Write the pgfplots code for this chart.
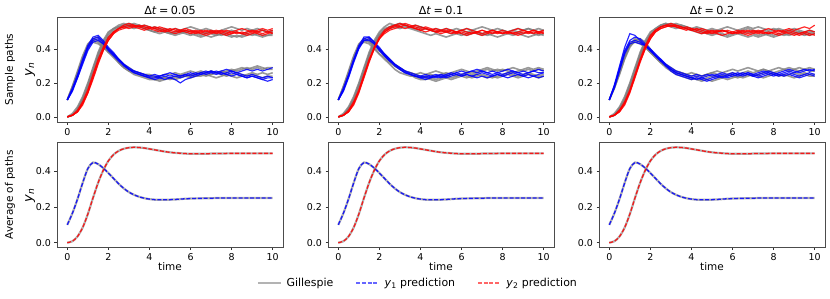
\documentclass[border=0pt]{standalone}
\usepackage{fontspec}
\setmainfont{DejaVu Sans}
\usepackage{pgfplots}
\pgfplotsset{compat=1.18}
\usepackage{pgfplotstable}

\pgfplotstableread{
t y1 y2
0 0.100 0.000
0.25 0.165 0.008
0.5 0.245 0.035
0.75 0.335 0.085
1 0.415 0.160
1.25 0.449 0.250
1.5 0.440 0.335
1.75 0.418 0.405
2 0.390 0.458
2.25 0.360 0.493
2.5 0.330 0.514
2.75 0.304 0.526
3 0.283 0.532
3.25 0.268 0.534
3.5 0.257 0.533
3.75 0.249 0.530
4 0.244 0.525
4.25 0.241 0.520
4.5 0.240 0.515
4.75 0.240 0.510
5 0.241 0.506
5.25 0.242 0.503
5.5 0.244 0.501
5.75 0.246 0.499
6 0.247 0.498
6.25 0.248 0.498
6.5 0.248 0.498
6.75 0.249 0.498
7 0.249 0.499
7.25 0.250 0.499
7.5 0.250 0.499
7.75 0.250 0.500
8 0.250 0.500
8.25 0.250 0.500
8.5 0.250 0.500
8.75 0.250 0.500
9 0.250 0.500
9.25 0.250 0.500
9.5 0.250 0.500
9.75 0.250 0.500
10 0.250 0.500
}\meantab

\newcommand{\pth}[2]{\addplot[#1] table[row sep=\\, header=false, x expr=\coordindex*0.25, y index=0]{#2\\};}

\pgfplotsset{
  every axis title shift=0pt,
  base/.style={
    scale only axis, width=226bp, height=105bp,
    xmin=-0.5, xmax=10.5, clip mode=individual,
    xtick={0,2,4,6,8,10}, ytick={0,0.2,0.4},
    tick pos=left, tick align=outside,
    major tick length=2.5bp,
    tick style={black!80, line width=0.7bp},
    axis line style={black!70, line width=0.8bp},
    tick label style={font=\fontsize{9.5}{11}\selectfont},
    /pgf/number format/assume math mode=true,
    yticklabel style={/pgf/number format/fixed, /pgf/number format/fixed zerofill, /pgf/number format/precision=1},
    title style={font=\fontsize{11.2}{12}\selectfont, at={(0.5,1)}, anchor=south, yshift=0pt, inner sep=2.5bp},
    label style={font=\fontsize{10.5}{12}\selectfont},
  },
  toprow/.style={base, ymin=-0.03, ymax=0.588},
  botrow/.style={base, ymin=-0.027, ymax=0.561, xlabel={time},
    xlabel style={at={(axis description cs:0.5,-0.185)}, anchor=center}},
  gp/.style={color=gray, line width=1.6bp, opacity=0.8},
  bp/.style={color=blue, line width=1.15bp, opacity=0.85},
  rp/.style={color=red, line width=1.15bp, opacity=0.85},
  gm/.style={color=gray, line width=2.2bp, opacity=0.6, smooth},
  bd/.style={color=blue, line width=1.3bp, opacity=0.85, dash pattern=on 4bp off 1.8bp, smooth},
  rd/.style={color=red, line width=1.3bp, opacity=0.85, dash pattern=on 4bp off 1.8bp, smooth},
}

\begin{document}
\begin{tikzpicture}
\path[use as bounding box] (0bp,0bp) rectangle (830bp,-299bp);

% ---------------- Top row, dt = 0.05
\begin{axis}[toprow, at={(57bp,-17bp)}, anchor=north west, title={Δ\textit{t}\hspace{0.22em}=\hspace{0.22em}0.05}]
\pth{gp}{0.10\\0.18\\0.27\\0.36\\0.43\\0.46\\0.45\\0.42\\0.38\\0.35\\0.32\\0.29\\0.27\\0.26\\0.25\\0.24\\0.23\\0.22\\0.22\\0.23\\0.23\\0.24\\0.24\\0.25\\0.24\\0.25\\0.26\\0.26\\0.27\\0.26\\0.26\\0.27\\0.28\\0.27\\0.28\\0.29\\0.28\\0.29\\0.28\\0.29\\0.29}
\pth{gp}{0.10\\0.17\\0.26\\0.35\\0.42\\0.45\\0.44\\0.41\\0.38\\0.36\\0.33\\0.30\\0.28\\0.27\\0.25\\0.24\\0.24\\0.23\\0.24\\0.25\\0.25\\0.26\\0.25\\0.26\\0.27\\0.26\\0.27\\0.26\\0.25\\0.26\\0.25\\0.24\\0.25\\0.26\\0.25\\0.24\\0.25\\0.24\\0.23\\0.24\\0.24}
\pth{gp}{0.10\\0.18\\0.26\\0.34\\0.41\\0.46\\0.47\\0.44\\0.40\\0.37\\0.34\\0.31\\0.29\\0.27\\0.26\\0.25\\0.25\\0.24\\0.23\\0.23\\0.22\\0.23\\0.24\\0.24\\0.23\\0.24\\0.25\\0.24\\0.25\\0.26\\0.27\\0.26\\0.27\\0.28\\0.29\\0.28\\0.29\\0.30\\0.29\\0.28\\0.28}
\pth{gp}{0.10\\0.17\\0.25\\0.34\\0.42\\0.44\\0.43\\0.41\\0.39\\0.36\\0.32\\0.29\\0.27\\0.25\\0.24\\0.23\\0.22\\0.22\\0.21\\0.22\\0.23\\0.22\\0.23\\0.24\\0.25\\0.24\\0.24\\0.25\\0.24\\0.23\\0.24\\0.25\\0.24\\0.23\\0.24\\0.25\\0.26\\0.25\\0.26\\0.25\\0.26}
\pth{gp}{0.00\\0.01\\0.05\\0.11\\0.19\\0.28\\0.37\\0.44\\0.49\\0.52\\0.54\\0.55\\0.54\\0.55\\0.54\\0.53\\0.52\\0.53\\0.52\\0.51\\0.50\\0.49\\0.50\\0.49\\0.48\\0.49\\0.48\\0.49\\0.50\\0.49\\0.48\\0.49\\0.48\\0.47\\0.48\\0.49\\0.48\\0.49\\0.48\\0.48\\0.49}
\pth{gp}{0.00\\0.01\\0.04\\0.10\\0.18\\0.27\\0.36\\0.43\\0.48\\0.51\\0.53\\0.54\\0.55\\0.54\\0.53\\0.54\\0.53\\0.52\\0.51\\0.52\\0.51\\0.52\\0.51\\0.52\\0.53\\0.52\\0.51\\0.52\\0.51\\0.50\\0.51\\0.52\\0.53\\0.52\\0.51\\0.52\\0.51\\0.50\\0.51\\0.50\\0.50}
\pth{gp}{0.00\\0.02\\0.06\\0.12\\0.20\\0.29\\0.38\\0.45\\0.50\\0.52\\0.53\\0.54\\0.53\\0.52\\0.53\\0.52\\0.51\\0.50\\0.49\\0.50\\0.49\\0.48\\0.49\\0.50\\0.51\\0.50\\0.49\\0.50\\0.49\\0.48\\0.49\\0.50\\0.51\\0.50\\0.49\\0.50\\0.51\\0.52\\0.51\\0.50\\0.51}
\pth{gp}{0.00\\0.01\\0.04\\0.10\\0.17\\0.26\\0.35\\0.42\\0.47\\0.50\\0.52\\0.53\\0.54\\0.53\\0.54\\0.52\\0.51\\0.50\\0.51\\0.50\\0.49\\0.50\\0.51\\0.50\\0.49\\0.48\\0.47\\0.48\\0.47\\0.48\\0.49\\0.48\\0.47\\0.48\\0.47\\0.48\\0.49\\0.48\\0.47\\0.48\\0.48}
\pth{bp}{0.10\\0.16\\0.24\\0.33\\0.41\\0.46\\0.47\\0.44\\0.40\\0.37\\0.34\\0.31\\0.28\\0.27\\0.26\\0.25\\0.24\\0.24\\0.23\\0.24\\0.23\\0.22\\0.20\\0.22\\0.23\\0.24\\0.25\\0.26\\0.27\\0.26\\0.27\\0.28\\0.27\\0.26\\0.27\\0.28\\0.27\\0.28\\0.27\\0.28\\0.29}
\pth{bp}{0.10\\0.16\\0.23\\0.32\\0.40\\0.45\\0.46\\0.43\\0.39\\0.36\\0.33\\0.30\\0.28\\0.26\\0.25\\0.24\\0.23\\0.23\\0.24\\0.25\\0.24\\0.25\\0.24\\0.25\\0.26\\0.25\\0.26\\0.27\\0.26\\0.25\\0.26\\0.25\\0.24\\0.25\\0.24\\0.23\\0.24\\0.23\\0.22\\0.23\\0.23}
\pth{bp}{0.10\\0.15\\0.23\\0.31\\0.39\\0.44\\0.45\\0.43\\0.40\\0.37\\0.34\\0.31\\0.29\\0.27\\0.26\\0.25\\0.24\\0.25\\0.24\\0.25\\0.26\\0.25\\0.24\\0.25\\0.24\\0.25\\0.26\\0.25\\0.26\\0.27\\0.26\\0.25\\0.26\\0.25\\0.24\\0.23\\0.24\\0.23\\0.22\\0.21\\0.22}
\pth{bp}{0.10\\0.17\\0.25\\0.34\\0.42\\0.47\\0.48\\0.45\\0.41\\0.38\\0.34\\0.31\\0.28\\0.26\\0.25\\0.24\\0.23\\0.22\\0.23\\0.22\\0.23\\0.24\\0.23\\0.24\\0.25\\0.26\\0.25\\0.26\\0.27\\0.26\\0.25\\0.26\\0.27\\0.26\\0.25\\0.24\\0.25\\0.24\\0.23\\0.24\\0.23}
\pth{rp}{0.00\\0.01\\0.03\\0.08\\0.15\\0.24\\0.33\\0.40\\0.46\\0.50\\0.52\\0.53\\0.54\\0.53\\0.54\\0.53\\0.52\\0.53\\0.52\\0.51\\0.52\\0.51\\0.50\\0.51\\0.50\\0.49\\0.50\\0.49\\0.50\\0.51\\0.50\\0.49\\0.50\\0.51\\0.52\\0.51\\0.50\\0.51\\0.52\\0.51\\0.52}
\pth{rp}{0.00\\0.01\\0.03\\0.08\\0.14\\0.23\\0.32\\0.39\\0.45\\0.49\\0.51\\0.52\\0.53\\0.54\\0.53\\0.52\\0.53\\0.52\\0.51\\0.50\\0.51\\0.50\\0.51\\0.50\\0.49\\0.50\\0.49\\0.48\\0.49\\0.50\\0.49\\0.48\\0.49\\0.50\\0.49\\0.48\\0.49\\0.50\\0.49\\0.50\\0.49}
\pth{rp}{0.00\\0.01\\0.04\\0.09\\0.16\\0.25\\0.34\\0.41\\0.47\\0.50\\0.52\\0.53\\0.52\\0.53\\0.52\\0.51\\0.52\\0.51\\0.50\\0.51\\0.50\\0.49\\0.50\\0.51\\0.50\\0.51\\0.50\\0.51\\0.50\\0.49\\0.50\\0.51\\0.50\\0.49\\0.50\\0.49\\0.50\\0.49\\0.48\\0.49\\0.50}
\pth{rp}{0.00\\0.01\\0.03\\0.07\\0.14\\0.22\\0.31\\0.39\\0.45\\0.49\\0.52\\0.54\\0.55\\0.54\\0.53\\0.54\\0.53\\0.52\\0.53\\0.52\\0.51\\0.52\\0.51\\0.52\\0.51\\0.50\\0.51\\0.50\\0.51\\0.50\\0.51\\0.50\\0.49\\0.50\\0.49\\0.50\\0.51\\0.50\\0.51\\0.50\\0.51}
\node[rotate=90, font=\fontsize{10.5}{12}\selectfont] at (rel axis cs:-0.208,0.5) {Sample paths};
\node[rotate=90, font=\fontsize{13}{14}\selectfont] at (rel axis cs:-0.119,0.5) {\textit{y}\textsubscript{\textit{n}}};
\end{axis}

% ---------------- Top row, dt = 0.1
\begin{axis}[toprow, at={(328bp,-17bp)}, anchor=north west, title={Δ\textit{t}\hspace{0.22em}=\hspace{0.22em}0.1}]
\pth{gp}{0.10\\0.17\\0.26\\0.35\\0.42\\0.45\\0.44\\0.42\\0.39\\0.36\\0.33\\0.30\\0.28\\0.26\\0.25\\0.23\\0.22\\0.22\\0.23\\0.22\\0.23\\0.24\\0.23\\0.24\\0.25\\0.26\\0.25\\0.26\\0.27\\0.28\\0.27\\0.28\\0.27\\0.28\\0.29\\0.28\\0.27\\0.28\\0.27\\0.28\\0.27}
\pth{gp}{0.10\\0.18\\0.27\\0.36\\0.43\\0.46\\0.45\\0.41\\0.37\\0.34\\0.31\\0.28\\0.26\\0.25\\0.24\\0.24\\0.23\\0.24\\0.25\\0.24\\0.25\\0.26\\0.25\\0.24\\0.25\\0.24\\0.23\\0.24\\0.25\\0.24\\0.23\\0.24\\0.25\\0.26\\0.25\\0.24\\0.25\\0.26\\0.25\\0.24\\0.25}
\pth{gp}{0.10\\0.17\\0.25\\0.34\\0.41\\0.45\\0.46\\0.43\\0.40\\0.37\\0.34\\0.31\\0.29\\0.27\\0.26\\0.25\\0.24\\0.23\\0.22\\0.21\\0.22\\0.23\\0.22\\0.23\\0.24\\0.23\\0.24\\0.25\\0.24\\0.23\\0.24\\0.23\\0.24\\0.25\\0.24\\0.23\\0.24\\0.25\\0.24\\0.23\\0.24}
\pth{gp}{0.10\\0.18\\0.26\\0.35\\0.42\\0.44\\0.43\\0.40\\0.37\\0.35\\0.32\\0.30\\0.28\\0.27\\0.26\\0.25\\0.26\\0.25\\0.26\\0.27\\0.26\\0.25\\0.26\\0.27\\0.28\\0.27\\0.26\\0.27\\0.28\\0.29\\0.28\\0.27\\0.28\\0.27\\0.26\\0.27\\0.28\\0.29\\0.28\\0.29\\0.28}
\pth{gp}{0.00\\0.01\\0.05\\0.11\\0.19\\0.28\\0.37\\0.44\\0.49\\0.52\\0.53\\0.54\\0.55\\0.54\\0.53\\0.52\\0.53\\0.52\\0.51\\0.50\\0.51\\0.50\\0.49\\0.50\\0.49\\0.48\\0.49\\0.50\\0.49\\0.48\\0.49\\0.50\\0.49\\0.50\\0.51\\0.50\\0.49\\0.50\\0.49\\0.48\\0.49}
\pth{gp}{0.00\\0.02\\0.06\\0.12\\0.20\\0.29\\0.38\\0.45\\0.50\\0.53\\0.55\\0.54\\0.55\\0.54\\0.53\\0.54\\0.53\\0.52\\0.51\\0.52\\0.51\\0.52\\0.51\\0.50\\0.51\\0.52\\0.51\\0.52\\0.53\\0.52\\0.51\\0.52\\0.51\\0.50\\0.51\\0.52\\0.51\\0.52\\0.51\\0.50\\0.51}
\pth{gp}{0.00\\0.01\\0.04\\0.10\\0.18\\0.27\\0.36\\0.43\\0.48\\0.51\\0.52\\0.53\\0.52\\0.53\\0.52\\0.51\\0.50\\0.49\\0.48\\0.49\\0.48\\0.47\\0.48\\0.49\\0.48\\0.49\\0.50\\0.49\\0.48\\0.49\\0.48\\0.47\\0.48\\0.49\\0.48\\0.49\\0.48\\0.47\\0.48\\0.49\\0.48}
\pth{gp}{0.00\\0.01\\0.05\\0.10\\0.18\\0.27\\0.36\\0.43\\0.48\\0.51\\0.53\\0.54\\0.53\\0.54\\0.53\\0.52\\0.51\\0.52\\0.51\\0.50\\0.51\\0.50\\0.51\\0.52\\0.51\\0.50\\0.51\\0.50\\0.49\\0.50\\0.51\\0.50\\0.51\\0.50\\0.49\\0.50\\0.51\\0.52\\0.51\\0.52\\0.51}
\pth{bp}{0.10\\0.16\\0.24\\0.33\\0.41\\0.46\\0.47\\0.44\\0.40\\0.36\\0.33\\0.30\\0.28\\0.26\\0.25\\0.24\\0.23\\0.24\\0.23\\0.24\\0.25\\0.24\\0.25\\0.26\\0.25\\0.26\\0.27\\0.26\\0.27\\0.26\\0.25\\0.26\\0.27\\0.28\\0.27\\0.26\\0.27\\0.26\\0.27\\0.28\\0.27}
\pth{bp}{0.10\\0.15\\0.23\\0.32\\0.40\\0.45\\0.45\\0.43\\0.39\\0.36\\0.33\\0.31\\0.29\\0.27\\0.26\\0.25\\0.24\\0.25\\0.24\\0.23\\0.24\\0.23\\0.24\\0.25\\0.24\\0.25\\0.24\\0.25\\0.26\\0.25\\0.24\\0.25\\0.24\\0.25\\0.26\\0.25\\0.24\\0.25\\0.24\\0.25\\0.26}
\pth{bp}{0.10\\0.17\\0.25\\0.34\\0.42\\0.47\\0.47\\0.44\\0.41\\0.37\\0.34\\0.31\\0.28\\0.26\\0.25\\0.24\\0.24\\0.23\\0.24\\0.25\\0.24\\0.25\\0.26\\0.25\\0.24\\0.25\\0.24\\0.23\\0.24\\0.23\\0.24\\0.25\\0.24\\0.23\\0.24\\0.25\\0.24\\0.23\\0.24\\0.23\\0.24}
\pth{bp}{0.10\\0.16\\0.24\\0.33\\0.41\\0.45\\0.46\\0.43\\0.40\\0.37\\0.34\\0.31\\0.29\\0.27\\0.25\\0.24\\0.23\\0.22\\0.23\\0.24\\0.23\\0.24\\0.25\\0.26\\0.27\\0.26\\0.27\\0.28\\0.27\\0.26\\0.27\\0.26\\0.25\\0.26\\0.27\\0.26\\0.25\\0.26\\0.27\\0.26\\0.26}
\pth{rp}{0.00\\0.01\\0.03\\0.08\\0.15\\0.24\\0.33\\0.41\\0.47\\0.51\\0.53\\0.54\\0.55\\0.54\\0.53\\0.54\\0.53\\0.52\\0.51\\0.52\\0.51\\0.50\\0.51\\0.50\\0.51\\0.50\\0.49\\0.50\\0.51\\0.50\\0.51\\0.50\\0.49\\0.50\\0.49\\0.50\\0.51\\0.50\\0.51\\0.50\\0.51}
\pth{rp}{0.00\\0.01\\0.03\\0.07\\0.14\\0.23\\0.32\\0.40\\0.46\\0.50\\0.52\\0.53\\0.54\\0.55\\0.54\\0.53\\0.52\\0.53\\0.52\\0.51\\0.50\\0.51\\0.50\\0.49\\0.50\\0.49\\0.50\\0.49\\0.48\\0.49\\0.50\\0.49\\0.50\\0.49\\0.50\\0.49\\0.50\\0.49\\0.50\\0.49\\0.50}
\pth{rp}{0.00\\0.01\\0.04\\0.09\\0.16\\0.25\\0.34\\0.41\\0.46\\0.49\\0.51\\0.52\\0.53\\0.52\\0.53\\0.52\\0.51\\0.52\\0.51\\0.50\\0.51\\0.52\\0.51\\0.50\\0.51\\0.52\\0.51\\0.50\\0.51\\0.50\\0.49\\0.50\\0.51\\0.50\\0.51\\0.52\\0.51\\0.50\\0.51\\0.50\\0.49}
\pth{rp}{0.00\\0.01\\0.03\\0.08\\0.15\\0.24\\0.33\\0.40\\0.46\\0.50\\0.52\\0.54\\0.53\\0.54\\0.53\\0.52\\0.51\\0.50\\0.51\\0.50\\0.49\\0.50\\0.49\\0.50\\0.49\\0.48\\0.49\\0.50\\0.49\\0.50\\0.51\\0.50\\0.49\\0.50\\0.49\\0.48\\0.49\\0.50\\0.49\\0.50\\0.50}
\end{axis}

% ---------------- Top row, dt = 0.2
\begin{axis}[toprow, at={(599bp,-17bp)}, anchor=north west, title={Δ\textit{t}\hspace{0.22em}=\hspace{0.22em}0.2}]
\pth{gp}{0.10\\0.17\\0.26\\0.35\\0.42\\0.46\\0.45\\0.42\\0.38\\0.35\\0.32\\0.29\\0.27\\0.25\\0.24\\0.23\\0.22\\0.23\\0.22\\0.23\\0.24\\0.23\\0.24\\0.25\\0.26\\0.25\\0.26\\0.27\\0.26\\0.27\\0.28\\0.27\\0.28\\0.29\\0.28\\0.27\\0.28\\0.27\\0.28\\0.27\\0.27}
\pth{gp}{0.10\\0.18\\0.27\\0.36\\0.43\\0.45\\0.44\\0.41\\0.38\\0.35\\0.32\\0.30\\0.28\\0.27\\0.26\\0.25\\0.24\\0.25\\0.24\\0.25\\0.26\\0.25\\0.24\\0.25\\0.24\\0.23\\0.24\\0.25\\0.24\\0.25\\0.26\\0.25\\0.26\\0.25\\0.24\\0.25\\0.26\\0.25\\0.26\\0.25\\0.25}
\pth{gp}{0.10\\0.17\\0.25\\0.34\\0.41\\0.45\\0.46\\0.44\\0.40\\0.36\\0.33\\0.30\\0.28\\0.26\\0.25\\0.24\\0.23\\0.22\\0.21\\0.22\\0.21\\0.22\\0.23\\0.22\\0.23\\0.24\\0.23\\0.24\\0.25\\0.24\\0.23\\0.24\\0.25\\0.24\\0.25\\0.24\\0.23\\0.24\\0.25\\0.24\\0.24}
\pth{gp}{0.10\\0.18\\0.26\\0.35\\0.42\\0.44\\0.43\\0.41\\0.38\\0.36\\0.33\\0.31\\0.29\\0.27\\0.26\\0.25\\0.26\\0.25\\0.24\\0.25\\0.26\\0.27\\0.26\\0.27\\0.28\\0.27\\0.28\\0.29\\0.28\\0.27\\0.28\\0.27\\0.26\\0.27\\0.28\\0.29\\0.28\\0.29\\0.28\\0.29\\0.28}
\pth{gp}{0.00\\0.01\\0.05\\0.11\\0.19\\0.28\\0.37\\0.44\\0.49\\0.52\\0.54\\0.55\\0.54\\0.55\\0.54\\0.53\\0.52\\0.51\\0.50\\0.49\\0.48\\0.49\\0.48\\0.47\\0.48\\0.49\\0.48\\0.47\\0.48\\0.47\\0.48\\0.49\\0.48\\0.49\\0.48\\0.49\\0.50\\0.49\\0.48\\0.49\\0.49}
\pth{gp}{0.00\\0.02\\0.06\\0.12\\0.20\\0.29\\0.38\\0.45\\0.50\\0.52\\0.54\\0.55\\0.54\\0.53\\0.54\\0.53\\0.52\\0.53\\0.52\\0.51\\0.52\\0.51\\0.52\\0.53\\0.52\\0.51\\0.52\\0.53\\0.52\\0.53\\0.52\\0.51\\0.52\\0.51\\0.50\\0.51\\0.52\\0.51\\0.50\\0.51\\0.50}
\pth{gp}{0.00\\0.01\\0.04\\0.10\\0.18\\0.27\\0.36\\0.43\\0.48\\0.51\\0.53\\0.54\\0.53\\0.52\\0.53\\0.52\\0.51\\0.50\\0.49\\0.50\\0.49\\0.50\\0.49\\0.48\\0.49\\0.50\\0.49\\0.50\\0.49\\0.48\\0.49\\0.48\\0.47\\0.48\\0.49\\0.48\\0.49\\0.50\\0.49\\0.48\\0.49}
\pth{gp}{0.00\\0.01\\0.05\\0.10\\0.18\\0.27\\0.36\\0.43\\0.48\\0.51\\0.53\\0.54\\0.55\\0.54\\0.53\\0.52\\0.51\\0.52\\0.51\\0.50\\0.51\\0.50\\0.51\\0.50\\0.49\\0.50\\0.51\\0.52\\0.51\\0.50\\0.51\\0.50\\0.51\\0.52\\0.51\\0.50\\0.51\\0.50\\0.49\\0.50\\0.50}
\pth{bp}{0.10\\0.19\\0.30\\0.41\\0.49\\0.48\\0.45\\0.42\\0.39\\0.36\\0.33\\0.30\\0.28\\0.26\\0.25\\0.24\\0.23\\0.22\\0.23\\0.22\\0.23\\0.24\\0.23\\0.24\\0.25\\0.24\\0.25\\0.26\\0.25\\0.26\\0.27\\0.26\\0.25\\0.26\\0.27\\0.28\\0.27\\0.26\\0.27\\0.28\\0.27}
\pth{bp}{0.10\\0.18\\0.28\\0.38\\0.44\\0.45\\0.44\\0.42\\0.40\\0.37\\0.34\\0.31\\0.28\\0.26\\0.25\\0.24\\0.23\\0.24\\0.23\\0.24\\0.25\\0.24\\0.25\\0.24\\0.25\\0.26\\0.25\\0.26\\0.25\\0.24\\0.25\\0.26\\0.25\\0.24\\0.25\\0.26\\0.25\\0.24\\0.25\\0.26\\0.25}
\pth{bp}{0.10\\0.18\\0.29\\0.39\\0.45\\0.47\\0.46\\0.43\\0.40\\0.36\\0.33\\0.30\\0.27\\0.25\\0.24\\0.23\\0.22\\0.23\\0.22\\0.21\\0.22\\0.23\\0.24\\0.23\\0.24\\0.25\\0.26\\0.25\\0.24\\0.25\\0.26\\0.27\\0.26\\0.25\\0.26\\0.27\\0.26\\0.27\\0.28\\0.27\\0.28}
\pth{bp}{0.10\\0.17\\0.27\\0.37\\0.43\\0.44\\0.43\\0.42\\0.39\\0.36\\0.34\\0.31\\0.29\\0.27\\0.26\\0.25\\0.24\\0.25\\0.24\\0.25\\0.24\\0.25\\0.26\\0.25\\0.26\\0.25\\0.24\\0.25\\0.24\\0.23\\0.24\\0.25\\0.24\\0.25\\0.24\\0.25\\0.24\\0.23\\0.24\\0.25\\0.24}
\pth{rp}{0.00\\0.01\\0.04\\0.09\\0.16\\0.25\\0.34\\0.42\\0.48\\0.51\\0.53\\0.54\\0.53\\0.54\\0.53\\0.52\\0.51\\0.52\\0.51\\0.50\\0.51\\0.50\\0.51\\0.50\\0.49\\0.50\\0.51\\0.50\\0.51\\0.50\\0.51\\0.52\\0.51\\0.50\\0.51\\0.52\\0.51\\0.52\\0.53\\0.52\\0.54}
\pth{rp}{0.00\\0.01\\0.03\\0.08\\0.15\\0.24\\0.33\\0.41\\0.47\\0.51\\0.53\\0.54\\0.55\\0.54\\0.53\\0.52\\0.51\\0.50\\0.49\\0.50\\0.49\\0.50\\0.51\\0.50\\0.49\\0.50\\0.49\\0.48\\0.49\\0.50\\0.49\\0.50\\0.49\\0.48\\0.49\\0.50\\0.49\\0.48\\0.49\\0.48\\0.49}
\pth{rp}{0.00\\0.01\\0.04\\0.08\\0.15\\0.24\\0.33\\0.40\\0.46\\0.50\\0.52\\0.53\\0.54\\0.53\\0.52\\0.53\\0.52\\0.51\\0.52\\0.51\\0.50\\0.51\\0.50\\0.51\\0.50\\0.51\\0.50\\0.49\\0.50\\0.51\\0.50\\0.49\\0.50\\0.49\\0.50\\0.51\\0.50\\0.49\\0.50\\0.51\\0.50}
\pth{rp}{0.00\\0.01\\0.03\\0.07\\0.14\\0.23\\0.32\\0.40\\0.46\\0.50\\0.52\\0.53\\0.54\\0.53\\0.52\\0.51\\0.52\\0.51\\0.50\\0.49\\0.50\\0.49\\0.48\\0.49\\0.50\\0.49\\0.50\\0.51\\0.50\\0.49\\0.50\\0.49\\0.50\\0.51\\0.50\\0.49\\0.48\\0.49\\0.50\\0.49\\0.48}
\end{axis}

% ---------------- Bottom row
\begin{axis}[botrow, at={(57bp,-142.5bp)}, anchor=north west]
\addplot[gm] table[x=t, y=y1] {\meantab};
\addplot[gm] table[x=t, y=y2] {\meantab};
\addplot[bd] table[x=t, y=y1] {\meantab};
\addplot[rd] table[x=t, y=y2] {\meantab};
\node[rotate=90, font=\fontsize{10.5}{12}\selectfont] at (rel axis cs:-0.208,0.5) {Average of paths};
\node[rotate=90, font=\fontsize{13}{14}\selectfont] at (rel axis cs:-0.119,0.5) {\textit{y}\textsubscript{\textit{n}}};
\end{axis}

\begin{axis}[botrow, at={(328bp,-142.5bp)}, anchor=north west,
  legend columns=3,
  legend style={draw=none, fill=none, at={(axis description cs:0.398,-0.338)}, anchor=center,
    font=\fontsize{11}{12}\selectfont,
    /tikz/every odd column/.append style={column sep=3bp},
    /tikz/every even column/.append style={column sep=20bp}},
  legend image code/.code={\draw[#1] (0bp,0bp) -- (23bp,0bp);}]
\addlegendimage{color=gray, line width=1.6bp, opacity=0.6}
\addlegendentry{Gillespie}
\addlegendimage{color=blue, line width=1.3bp, opacity=0.6, dash pattern=on 4bp off 1.8bp}
\addlegendentry{\textit{y}\textsubscript{1} prediction}
\addlegendimage{color=red, line width=1.3bp, opacity=0.6, dash pattern=on 4bp off 1.8bp}
\addlegendentry{\textit{y}\textsubscript{2} prediction}
\addplot[gm, forget plot] table[x=t, y=y1] {\meantab};
\addplot[gm, forget plot] table[x=t, y=y2] {\meantab};
\addplot[bd, forget plot] table[x=t, y=y1] {\meantab};
\addplot[rd, forget plot] table[x=t, y=y2] {\meantab};
\end{axis}

\begin{axis}[botrow, at={(599bp,-142.5bp)}, anchor=north west]
\addplot[gm] table[x=t, y=y1] {\meantab};
\addplot[gm] table[x=t, y=y2] {\meantab};
\addplot[bd] table[x=t, y=y1] {\meantab};
\addplot[rd] table[x=t, y=y2] {\meantab};
\end{axis}
\end{tikzpicture}
\end{document}
